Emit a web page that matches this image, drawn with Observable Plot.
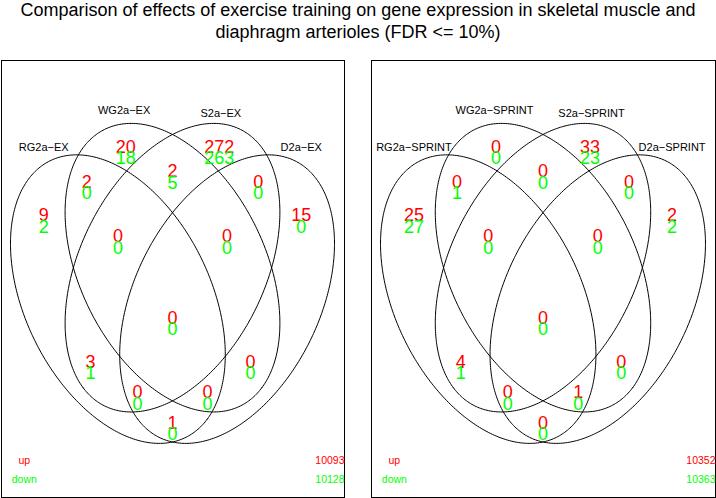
<!DOCTYPE html>
<html>
<head>
<meta charset="utf-8">
<script src="https://cdn.jsdelivr.net/npm/d3@7"></script>
<script src="https://cdn.jsdelivr.net/npm/@observablehq/plot@0.6"></script>
<style>
  html, body { margin: 0; padding: 0; background: white; }
  #title { width: 716px; height: 59px; text-align: center; font-family: "Liberation Sans", Arial, sans-serif;
           font-size: 18px; line-height: 21.7px; color: black; }
  #panels { display: flex; width: 716px; }
</style>
</head>
<body>
<div id="title">Comparison of effects of exercise training on gene expression in skeletal muscle and<br>diaphragm arterioles (FDR &lt;= 10%)</div>
<div id="panels"></div>
<script>
// ---- data ----
const regions = ["1000","0100","0010","0001","1100","1010","1001","0110","0101","0011","1110","1101","1011","0111","1111"];
const namesEX     = ["RG2a−EX", "WG2a−EX", "S2a−EX", "D2a−EX"];
const namesSPRINT = ["RG2a−SPRINT", "WG2a−SPRINT", "S2a−SPRINT", "D2a−SPRINT"];
const upEX       = [9, 20, 272, 15, 2, 3, 1, 2, 0, 0, 0, 0, 0, 0, 0];
const downEX     = [2, 18, 263, 0, 0, 1, 0, 5, 0, 0, 0, 0, 0, 0, 0];
const upSPRINT   = [25, 0, 33, 2, 0, 4, 0, 0, 0, 0, 0, 1, 0, 0, 0];
const downSPRINT = [27, 0, 23, 2, 1, 1, 0, 0, 0, 0, 0, 0, 0, 0, 0];
const notSigEX     = [10093, 10128];   // up, down (region "0000")
const notSigSPRINT = [10352, 10363];
const legendLabels = ["up", "down"];

// ---- layout (limma 4-set Venn coordinate system, 0..400) ----
const regionPos = {
  "1000": [35, 250], "0100": [140, 315], "0010": [260, 315], "0001": [365, 250],
  "1100": [90, 282], "1010": [95, 110], "1001": [200, 52], "0110": [200, 292],
  "0101": [300, 110], "0011": [310, 282], "1110": [130, 230], "1101": [245, 81],
  "1011": [155, 81], "0111": [270, 230], "1111": [200, 152]
};
const namePos = [[35, 315], [138, 350], [262, 347], [365, 315]];
const ellipses = [
  {cx: 130, cy: 170, phi: 45}, {cx: 200, cy: 200, phi: 45},
  {cx: 200, cy: 200, phi: 135}, {cx: 270, cy: 170, phi: 135}
];
const semiA = 162, semiB = 108;
const red = "#ff0000", green = "#00ff00";

function ellipsePoints() {
  const pts = [];
  ellipses.forEach((e, i) => {
    const p = e.phi / 180 * Math.PI;
    for (let d = 0; d <= 360; d++) {
      const t = d / 180 * Math.PI;
      const ex = semiA * Math.cos(t), ey = semiB * Math.sin(t);
      pts.push({id: i, x: e.cx + ex * Math.cos(p) + ey * Math.sin(p), y: e.cy - ex * Math.sin(p) + ey * Math.cos(p)});
    }
  });
  return pts;
}

function panel(names, up, down, notSig, left) {
  const counts = regions.map((r, i) => ({x: regionPos[r][0], y: regionPos[r][1], up: String(up[i]), down: String(down[i])}));
  const labels = names.map((n, i) => ({x: namePos[i][0], y: namePos[i][1], n}));
  const legend = [{t: legendLabels[0], v: String(notSig[0]), y: 16, c: red}, {t: legendLabels[1], v: String(notSig[1]), y: -2, c: green}];
  return Plot.plot({
    width: 358, height: 439,
    marginLeft: left ? 1 : 13, marginRight: left ? 14 : 1, marginTop: 1, marginBottom: 1,
    x: {domain: [-19.2, 420.5], axis: null},
    y: {domain: [-19.3, 397.7], axis: null},
    style: {fontFamily: "'Liberation Sans', Arial, sans-serif", background: "white", color: "black"},
    marks: [
      Plot.frame({stroke: "black", strokeWidth: 1}),
      Plot.line(ellipsePoints(), {x: "x", y: "y", z: "id", stroke: "black", strokeWidth: 1}),
      Plot.text(labels, {x: "x", y: "y", text: "n", fontSize: 11, fill: "black"}),
      Plot.text(counts, {x: "x", y: "y", text: "up", fontSize: 18, fill: red}),
      Plot.text(counts, {x: "x", y: "y", text: "down", fontSize: 18, fill: green, dy: 11.5}),
      Plot.text(legend, {x: 10, y: "y", text: "t", fontSize: 10.5, fill: "c"}),
      Plot.text(legend, {x: 420.5, y: "y", text: "v", fontSize: 10.5, fill: "c", textAnchor: "end"})
    ]
  });
}

const host = document.getElementById("panels");
host.appendChild(panel(namesEX, upEX, downEX, notSigEX, true));
host.appendChild(panel(namesSPRINT, upSPRINT, downSPRINT, notSigSPRINT, false));
</script>
</body>
</html>
